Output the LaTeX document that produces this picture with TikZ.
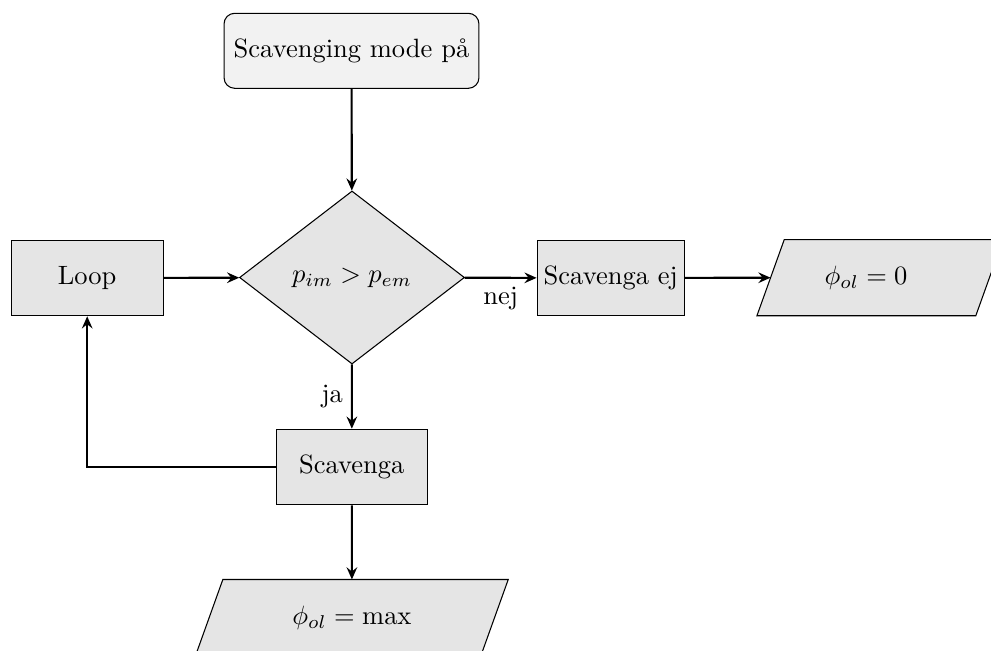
\documentclass[tikz,border=0pt]{standalone}
\usetikzlibrary{shapes.geometric,arrows.meta}

\tikzset{
  box/.style={draw, fill=gray!20, line width=0.4pt, inner sep=0pt,
              minimum height=28.5pt},
  startbox/.style={draw, fill=gray!10, rounded corners=4pt, line width=0.4pt,
                   inner sep=0pt, minimum width=96.2pt, minimum height=28.3pt},
  decision/.style={draw, fill=gray!20, diamond, line width=0.4pt, inner sep=0pt,
                   minimum width=84.9pt, minimum height=65.3pt},
  iobody/.style={inner sep=0pt, minimum height=28.3pt},
  ioshape/.style={draw, fill=gray!20, line width=0.4pt},
  flow/.style={thick, -{Stealth[length=4.6pt, width=4pt, inset=1.6pt]}},
  edgelabel/.style={inner sep=2pt}
}

% half of the horizontal offset of a slanted side (70 degree slant)
\newcommand{\slanthalf}{5.15pt}

\begin{document}
\begin{tikzpicture}[x=0.3774pt, y=-0.3774pt]
  \path[use as bounding box, clip] (0,0) rectangle (991,650);

  % nodes
  \node[startbox] (start) at (351.5,50.8) {Scavenging mode på};
  \node[decision] (cmp) at (352,277.5) {$p_{im} > p_{em}$};
  \node[box, minimum width=57.4pt] (loop) at (87.2,278) {Loop};
  \node[box, minimum width=55.5pt] (noscav) at (610.7,278) {Scavenga ej};
  \node[box, minimum width=57pt] (scav) at (351.8,467) {Scavenga};

  % output parallelograms: a body node, then its slanted outline
  \node[iobody, minimum width=82.2pt] (outzero) at (880,277.7) {};
  \node[iobody, minimum width=107.3pt] (outmax) at (351.9,617.5) {};
  \foreach \n in {outzero,outmax}{
    \draw[ioshape] ([xshift=\slanthalf]\n.north west) -- ([xshift=\slanthalf]\n.north east)
      -- ([xshift=-\slanthalf]\n.south east) -- ([xshift=-\slanthalf]\n.south west) -- cycle;
  }
  \node (outzerotext) at (866,277.7) {$\phi_{ol} = 0$};
  \node (outmaxtext) at (outmax.center) {$\phi_{ol} = \max$};

  % connectors
  \draw[flow] (start) -- (cmp);
  \draw[flow] (loop) -- (cmp);
  \draw[flow] (cmp) -- node[below, edgelabel, yshift=-1pt] {nej} (noscav);
  \draw[flow] (noscav) -- (outzero.west);
  \draw[flow] (cmp) -- node[left, edgelabel, xshift=-1pt] {ja} (scav);
  \draw[flow] (scav) -- (outmax.north);
  \draw[flow] (scav.west) -| (loop.south);
\end{tikzpicture}
\end{document}
